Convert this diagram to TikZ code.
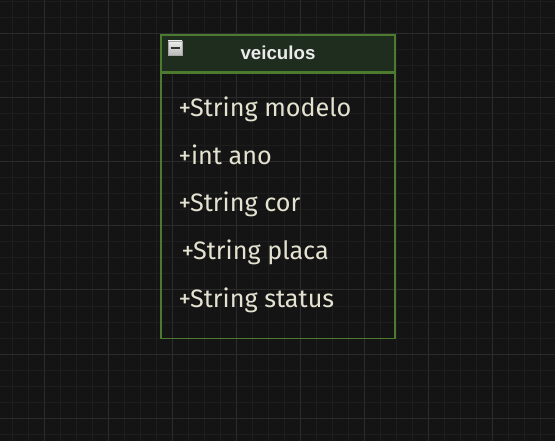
\documentclass[tikz,border=0pt]{standalone}
\usepackage{fontspec}
\setmainfont{Liberation Sans}
\newfontfamily\attrfont{Fira Sans}
\usetikzlibrary{positioning}
\definecolor{bgdark}{HTML}{141414}
\definecolor{gridminor}{HTML}{1D1D1D}
\definecolor{gridmajor}{HTML}{2B2B2B}
\definecolor{classgreen}{HTML}{4C7A2E}
\definecolor{headfill}{HTML}{1F2D1F}
\definecolor{attrtext}{HTML}{E4E2D0}

\begin{document}
\begin{tikzpicture}[x=1pt,y=-1pt]
        \useasboundingbox (0,0) rectangle (555,441);
        \fill[bgdark] (0,0) rectangle (555,441);
        % grid
        \foreach \x in {12,28,...,555} \draw[gridminor,line width=1pt] (\x,0) -- (\x,441);
        \foreach \y in {2,18,...,441} \draw[gridminor,line width=1pt] (0,\y) -- (555,\y);
        \foreach \x in {44,108,...,555} \draw[gridmajor,line width=1pt] (\x,0) -- (\x,441);
        \foreach \y in {34,98,...,441} \draw[gridmajor,line width=1pt] (0,\y) -- (555,\y);
        \begin{scope}[node distance=25.75pt, line width=1.5pt,
            head node/.style={rectangle,draw=classgreen,fill=headfill,minimum width=234pt,minimum height=37pt,inner sep=0pt},
            attr node/.style={inner sep=0pt,outer sep=0pt,anchor=base west,text=attrtext,font=\attrfont\fontsize{25.2}{25.2}\selectfont,text height=17pt,text depth=5pt}]
        \node[head node] (head) at (278,53.5) {};
        \node[draw=classgreen,rectangle,minimum width=234pt,minimum height=265pt,inner sep=0pt,anchor=north] (body) at (head.south) {};
        \node[font=\bfseries\fontsize{18.7}{18.7}\selectfont,text=white!92!black,anchor=base] (title) at (278,59.5) {veiculos};
        % collapse button
        \node[rectangle,draw=gray!70,line width=0.8pt,top color=gray!15,bottom color=gray!55,minimum size=14pt,inner sep=0pt] (btn) at (175,48) {};
        \draw[black!80,line width=2pt] ([xshift=-4.5pt]btn.center) -- ([xshift=4.5pt]btn.center);
        % attributes
        \node[attr node] (a1) at (178.5,116.5) {+String modelo};
        \node[attr node] (a2) [below=of a1.south west,anchor=north west] {+int ano};
        \node[attr node] (a3) [below=of a2.south west,anchor=north west] {+String cor};
        \node[attr node] (a4) [below=of a3.south west,anchor=north west,xshift=3pt] {+String placa};
        \node[attr node] (a5) [below=of a4.south west,anchor=north west,xshift=-3pt] {+String status};
        \end{scope}
    \end{tikzpicture}
\end{document}
